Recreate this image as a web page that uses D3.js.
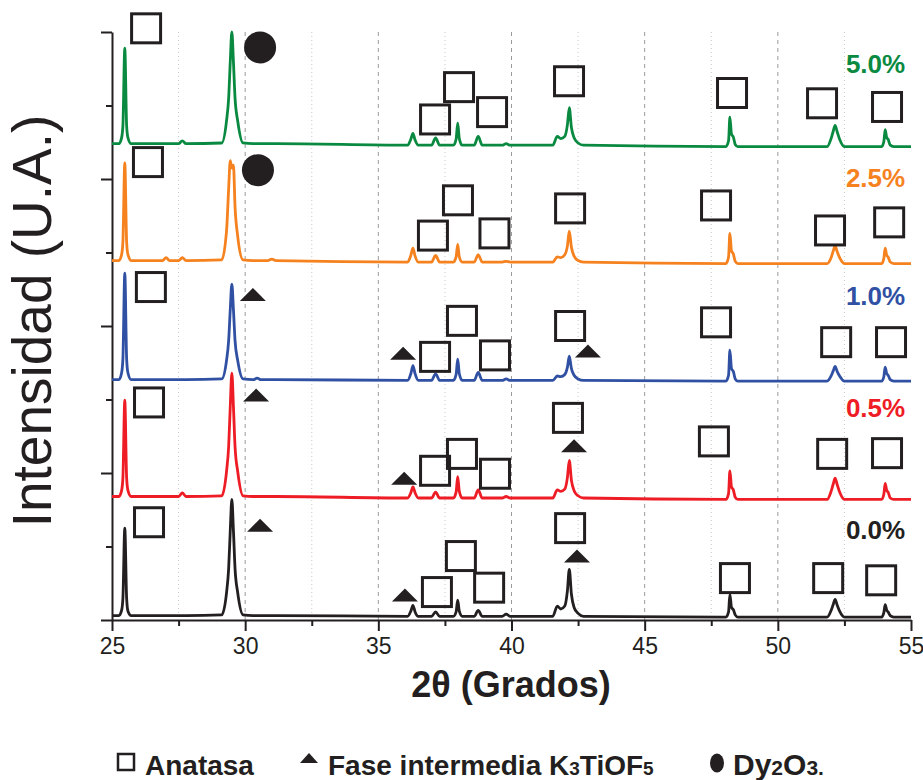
<!DOCTYPE html>
<html>
<head>
<meta charset="utf-8">
<script src="https://cdn.jsdelivr.net/npm/d3@7"></script>
<style>
	body { margin: 0; background: #fff; }
	svg text { font-family: "Liberation Sans", Arial, sans-serif; fill: #231f20; }
	.grid-major { stroke: #9a9a9a; stroke-width: 1; stroke-dasharray: 4,4; }
	.grid-minor { stroke: #c8c8c8; stroke-width: 1; stroke-dasharray: 1,3; }
	.axis path, .axis line { stroke: #231f20; stroke-width: 2; }
	.trace { fill: none; stroke-width: 2.8; stroke-linejoin: round; }
	.mark-sq { fill: none; stroke: #231f20; stroke-width: 3; }
	.mark-fill { fill: #231f20; }
</style>
</head>
<body>
<div class="chart"></div>
<script>
// 2theta points shared by all patterns (grados)
const twoTheta = [
	25, 25.26, 25.36, 25.41, 25.48, 25.55, 25.6, 25.72,
	26.9, 27.03, 27.16, 27.5, 27.64, 27.78,
	29.12, 29.3, 29.38, 29.44, 29.5, 29.56, 29.62, 29.72, 29.92,
	30.3, 30.45, 30.6, 30.85, 31.0, 31.15,
	36.1, 36.22, 36.3, 36.38, 36.5,
	37.0, 37.15, 37.3,
	37.82, 37.92, 37.98, 38.04, 38.15,
	38.6, 38.75, 38.9,
	39.65, 39.8, 39.95,
	41.55, 41.72, 41.85, 42.0, 42.1, 42.17, 42.25, 42.35, 42.5, 42.7,
	48.05, 48.15, 48.2, 48.26, 48.33, 48.4, 48.5,
	51.85, 52.0, 52.08, 52.15, 52.23, 52.32, 52.5,
	53.9, 53.98, 54.03, 54.09, 54.14, 54.22, 54.35,
	55
];

// intensities above each pattern's own baseline (U.A.)
const i00 = [
	1, 1, 8, 25, 120, 24, 7, 1,
	1, 1, 1, 1, 1, 1,
	2, 32, 65, 116, 159, 116, 65, 32, 2,
	1, 1, 1, 1, 1, 1,
	0, 7, 15, 6, 0,
	0, 6, 0,
	0, 6, 22, 7, 0,
	0, 8, 0,
	0, 3, 0,
	0, 14, 10, 14, 35, 64, 30, 12, 4, 0,
	-1, 6, 30, 12, 9, 2, -1,
	-1, 8, 16, 23, 15, 7, -1,
	-1, 5, 16, 8, 6, 1, -1,
	-1
];
const i05 = [
	2, 2, 10, 28, 133, 27, 10, 2,
	2, 2, 2, 2, 7, 2,
	3, 36, 70, 124, 170, 124, 70, 36, 3,
	2, 2, 2, 2, 2, 2,
	0, 7, 15, 7, 0,
	0, 8, 0,
	0, 8, 29, 9, 0,
	0, 11, 0,
	0, 2, 0,
	0, 11, 9, 12, 28, 51, 24, 10, 3, 0,
	-2, 6, 37, 15, 11, 1, -2,
	-2, 9, 19, 27, 18, 8, -2,
	-2, 5, 20, 10, 8, 0, -2,
	-2
];
const i10 = [
	1, 1, 10, 30, 146, 29, 10, 1,
	1, 1, 1, 1, 1, 1,
	2, 27, 54, 96, 131, 96, 54, 27, 2,
	1, 3, 1, 1, 1, 1,
	0, 9, 20, 9, 0,
	0, 9, 0,
	0, 8, 29, 9, 0,
	0, 11, 0,
	0, 2, 0,
	0, 6, 5, 8, 18, 33, 16, 7, 2, 0,
	-1, 7, 41, 16, 12, 2, -1,
	-1, 6, 13, 19, 12, 6, -1,
	-1, 5, 18, 9, 7, 1, -1,
	-1
];
const i25 = [
	2, 2, 10, 28, 135, 27, 10, 2,
	2, 6, 2, 2, 6, 2,
	3, 42, 100, 138, 128, 132, 75, 35, 3,
	2, 2, 2, 2, 4, 2,
	0, 9, 19, 8, 0,
	0, 9, 0,
	0, 7, 24, 7, 0,
	0, 10, 0,
	0, 1, 0,
	0, 7, 6, 10, 22, 42, 20, 8, 2, 0,
	-2, 7, 39, 15, 11, 1, -2,
	-2, 6, 15, 22, 14, 6, -2,
	-2, 5, 19, 9, 7, 0, -2,
	-2
];
const i50 = [
	2, 2, 10, 27, 132, 26, 10, 2,
	2, 2, 2, 2, 6, 2,
	3, 33, 64, 113, 154, 113, 64, 33, 3,
	2, 2, 2, 2, 2, 2,
	0, 8, 16, 7, 0,
	0, 10, 0,
	0, 8, 30, 9, 0,
	0, 12, 0,
	0, 2, 0,
	0, 12, 9, 12, 28, 51, 24, 10, 3, 0,
	-2, 6, 38, 15, 11, 1, -2,
	-2, 9, 19, 27, 18, 8, -2,
	-2, 5, 21, 10, 8, 0, -2,
	-2
];

const samples = ['0.0%', '0.5%', '1.0%', '2.5%', '5.0%'];
const series = [i00, i05, i10, i25, i50];
const offsets = [5, 166, 326, 487, 646];   // vertical stacking of the patterns
const colors = ['#231f20', '#ee1c25', '#3050a3', '#f5821f', '#0a8a40'];
const labelAt = [[54.78, 110], [54.78, 276], [54.78, 428], [54.78, 589], [54.78, 744]];

// phase markers [2theta, intensity]
const anatasa = [
	[26.28, 805], [37.13, 681], [38.03, 725], [39.27, 691], [42.16, 733], [48.28, 717], [51.66, 703], [54.1, 698],
	[26.35, 623], [37.05, 523], [37.99, 571], [39.36, 526], [42.2, 560], [47.68, 564], [51.96, 530], [54.18, 541],
	[26.46, 453], [37.13, 358], [38.14, 407], [39.38, 360], [42.2, 400], [47.68, 405], [52.19, 378], [54.25, 378],
	[26.39, 296], [37.13, 203], [38.14, 226], [39.38, 199], [42.12, 275], [47.6, 243], [52.04, 226], [54.1, 227],
	[26.39, 133], [37.2, 38], [38.1, 87], [39.16, 44], [42.2, 125], [48.39, 57], [51.89, 57], [53.88, 54]
];
const k3tiof5 = [
	[30.29, 443], [35.93, 363], [42.87, 366],
	[30.41, 306], [35.97, 193], [42.35, 237],
	[30.56, 129], [36.0, 34], [42.46, 87]
];
const dy2o3 = [[30.56, 779], [30.48, 612]];

const xTickLabels = [25, 30, 35, 40, 45, 50, 55];
const xMinorTicks = [27.5, 32.5, 37.5, 42.5, 47.5, 52.5];
const yMajorTicks = [0, 200, 400, 600, 800];
const yMinorTicks = [100, 300, 500, 700];

const width = 923, height = 780;
const svg = d3.select('.chart').append('svg')
	.attr('width', width)
	.attr('height', height);

const x = d3.scaleLinear().domain([25, 55]).range([112, 911]);
const y = d3.scaleLinear().domain([0, 800]).range([620, 32]);

// vertical grid
svg.append('g').selectAll('line')
	.data(xMinorTicks).enter().append('line')
	.attr('class', 'grid-minor')
	.attr('x1', d => x(d)).attr('x2', d => x(d))
	.attr('y1', y(800)).attr('y2', y(0));
svg.append('g').selectAll('line')
	.data(xTickLabels.slice(1, -1)).enter().append('line')
	.attr('class', 'grid-major')
	.attr('x1', d => x(d)).attr('x2', d => x(d))
	.attr('y1', y(800)).attr('y2', y(0));

// axes
const xAxis = svg.append('g').classed('x axis', true)
	.attr('transform', 'translate(0,' + y(0) + ')')
	.call(d3.axisBottom(x).tickValues(xTickLabels).tickSize(11).tickSizeOuter(0).tickPadding(7));
xAxis.selectAll('text').style('font-size', '23px');
svg.append('g').classed('axis', true)
	.attr('transform', 'translate(0,' + y(0) + ')')
	.call(d3.axisBottom(x).tickValues(xMinorTicks).tickSize(6).tickFormat(''))
	.select('.domain').remove();

svg.append('g').classed('y axis', true)
	.attr('transform', 'translate(' + x(25) + ',0)')
	.call(d3.axisLeft(y).tickValues(yMajorTicks).tickSize(11).tickSizeOuter(0).tickFormat(''));
svg.append('g').classed('axis', true)
	.attr('transform', 'translate(' + x(25) + ',0)')
	.call(d3.axisLeft(y).tickValues(yMinorTicks).tickSize(6).tickFormat(''))
	.select('.domain').remove();

// patterns
const line = d3.line()
	.x(d => x(d[0]))
	.y(d => y(d[1]))
	.curve(d3.curveMonotoneX);

series.forEach(function (vals, s) {
	const pts = twoTheta.map((t, k) => [t, offsets[s] + vals[k]]);
	svg.append('path')
		.datum(pts)
		.attr('class', 'trace')
		.attr('stroke', colors[s])
		.attr('d', line);

	svg.append('text')
		.attr('x', x(labelAt[s][0]))
		.attr('y', y(labelAt[s][1]))
		.attr('text-anchor', 'end')
		.style('font-size', '26px')
		.style('font-weight', 'bold')
		.style('fill', colors[s])
		.text(samples[s]);
});

// phase markers
svg.append('g').selectAll('rect')
	.data(anatasa).enter().append('rect')
	.attr('class', 'mark-sq')
	.attr('x', d => x(d[0]) - 14.5)
	.attr('y', d => y(d[1]) - 14.5)
	.attr('width', 29)
	.attr('height', 29);

svg.append('g').selectAll('path')
	.data(k3tiof5).enter().append('path')
	.attr('class', 'mark-fill')
	.attr('d', d => {
		const cx = x(d[0]), cy = y(d[1]);
		return 'M' + (cx - 13) + ',' + (cy + 6.5) + 'L' + (cx + 13) + ',' + (cy + 6.5) + 'L' + cx + ',' + (cy - 6.5) + 'Z';
	});

svg.append('g').selectAll('circle')
	.data(dy2o3).enter().append('circle')
	.attr('class', 'mark-fill')
	.attr('cx', d => x(d[0]))
	.attr('cy', d => y(d[1]))
	.attr('r', 16);

// axis titles
svg.append('text')
	.attr('x', 511)
	.attr('y', 697)
	.attr('text-anchor', 'middle')
	.style('font-size', '36px')
	.style('font-weight', 'bold')
	.text('2θ (Grados)');

svg.append('text')
	.attr('transform', 'translate(51,321) rotate(-90)')
	.attr('text-anchor', 'middle')
	.style('font-size', '55px')
	.text('Intensidad (U.A.)');

// legend
const legend = svg.append('g').style('font-size', '28px').style('font-weight', 'bold');
legend.append('rect').attr('class', 'mark-sq').style('stroke-width', 2.5)
	.attr('x', 118).attr('y', 754).attr('width', 16).attr('height', 16);
legend.append('text').attr('x', 145).attr('y', 775).text('Anatasa');
legend.append('path').attr('class', 'mark-fill').attr('d', 'M300,763L318,763L309,753Z');
const t2 = legend.append('text').attr('x', 328).attr('y', 775);
t2.append('tspan').text('Fase intermedia K');
t2.append('tspan').style('font-size', '19px').text('3');
t2.append('tspan').text('TiOF');
t2.append('tspan').style('font-size', '19px').text('5');
legend.append('ellipse').attr('class', 'mark-fill').attr('cx', 717).attr('cy', 763).attr('rx', 7).attr('ry', 9.5);
const t3 = legend.append('text').attr('x', 733).attr('y', 775).style('font-size', '30px');
t3.append('tspan').text('Dy');
t3.append('tspan').style('font-size', '21px').text('2');
t3.append('tspan').text('O');
t3.append('tspan').style('font-size', '21px').text('3.');
</script>
</body>
</html>
